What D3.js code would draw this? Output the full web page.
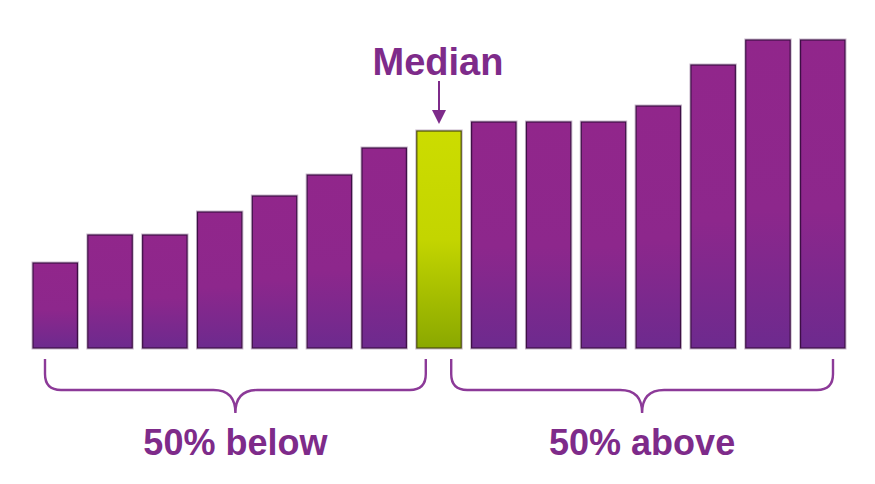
<!DOCTYPE html>
<html><head><meta charset="utf-8">
<script src="https://cdn.jsdelivr.net/npm/d3@7"></script>
<style>html,body{margin:0;padding:0;background:#fff;}svg{display:block;}</style>
</head><body>
<svg id="chart" width="875" height="484"></svg>
<script>
const categories = d3.range(1, 16).map(String);
const values = [85, 113, 113, 136, 152, 173, 200, 217, 226, 226, 226, 242, 283, 308, 308];
const medianIndex = 7;
const medianLabel = "Median";
const groupLabels = ["50% below", "50% above"];

const svg = d3.select("#chart");
const x = d3.scaleBand().domain(categories).range([33, 845]).paddingInner(0.19).paddingOuter(0);
const y = d3.scaleLinear().domain([0, 320]).range([348, 28]);

const defs = svg.append("defs");
const gp = defs.append("linearGradient").attr("id", "gPurple").attr("x1", 0).attr("y1", 0).attr("x2", 0).attr("y2", 1);
gp.append("stop").attr("offset", "0%").attr("stop-color", "#91268b");
gp.append("stop").attr("offset", "55%").attr("stop-color", "#8d278c");
gp.append("stop").attr("offset", "100%").attr("stop-color", "#6d2a8e");
const gg = defs.append("linearGradient").attr("id", "gGreen").attr("x1", 0).attr("y1", 0).attr("x2", 0).attr("y2", 1);
gg.append("stop").attr("offset", "0%").attr("stop-color", "#ccdc00");
gg.append("stop").attr("offset", "50%").attr("stop-color", "#c3d500");
gg.append("stop").attr("offset", "100%").attr("stop-color", "#8aa800");

// halo
svg.append("g").selectAll("rect").data(values).join("rect")
  .attr("x", (d, i) => x(categories[i]) - 1)
  .attr("y", d => y(d) - 1)
  .attr("width", x.bandwidth() + 2)
  .attr("height", d => y(0) - y(d) + 2)
  .attr("fill", "none").attr("stroke", "#c9b8cc").attr("stroke-width", 1);

svg.append("g").selectAll("rect").data(values).join("rect")
  .attr("x", (d, i) => x(categories[i]))
  .attr("y", d => y(d))
  .attr("width", x.bandwidth())
  .attr("height", d => y(0) - y(d))
  .attr("fill", (d, i) => i === medianIndex ? "url(#gGreen)" : "url(#gPurple)")
  .attr("stroke", (d, i) => i === medianIndex ? "#4a4a10" : "#3d0f45")
  .attr("stroke-width", 1.2);

const purple = "#7e2b8a";
const mx = x(categories[medianIndex]) + x.bandwidth() / 2;
svg.append("text").attr("x", mx - 1).attr("y", 75).attr("text-anchor", "middle")
  .attr("font-family", "Liberation Sans, Arial, sans-serif").attr("font-weight", "bold")
  .attr("font-size", 38).attr("fill", purple).text(medianLabel);
svg.append("line").attr("x1", mx).attr("x2", mx).attr("y1", 81).attr("y2", 112)
  .attr("stroke", purple).attr("stroke-width", 2);
svg.append("path").attr("d", `M${mx - 7},110 L${mx + 7},110 L${mx},124 Z`).attr("fill", purple);

function brace(x0, x1, yTop, yH, yTip, r, tr) {
  const c = (x0 + x1) / 2;
  return `M${x0},${yTop} L${x0},${yH - r} Q${x0},${yH} ${x0 + r},${yH} L${c - tr},${yH} Q${c},${yH} ${c},${yTip} Q${c},${yH} ${c + tr},${yH} L${x1 - r},${yH} Q${x1},${yH} ${x1},${yH - r} L${x1},${yTop}`;
}
const braces = [
  [x(categories[0]) + 12, x(categories[medianIndex]) + 9],
  [x(categories[medianIndex]) + x.bandwidth() - 10, x(categories[14]) + x.bandwidth() - 12]
];
svg.append("g").selectAll("path").data(braces).join("path")
  .attr("d", d => brace(d[0], d[1], 359, 390, 413, 16, 22))
  .attr("fill", "none").attr("stroke", "#8c3a98").attr("stroke-width", 2.4);

svg.append("g").selectAll("text").data(groupLabels).join("text")
  .attr("x", (d, i) => (braces[i][0] + braces[i][1]) / 2)
  .attr("y", 455).attr("text-anchor", "middle")
  .attr("font-family", "Liberation Sans, Arial, sans-serif").attr("font-weight", "bold")
  .attr("font-size", 36).attr("fill", purple).text(d => d);
</script>
</body></html>
